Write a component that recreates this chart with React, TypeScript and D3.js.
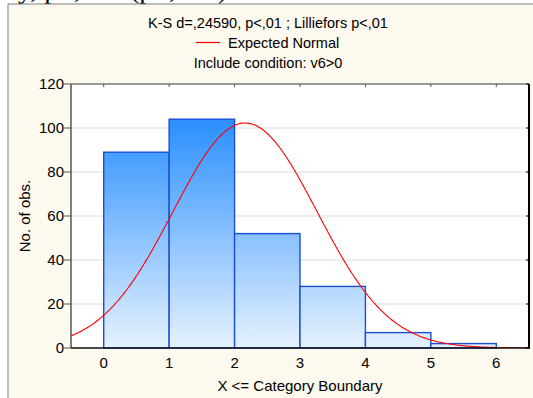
import React from "react";
import * as d3 from "d3";

const categories = [0, 1, 2, 3, 4, 5];
const counts = [89, 104, 52, 28, 7, 2];
const yTicks = [0, 20, 40, 60, 80, 100, 120];
const xTicks = [0, 1, 2, 3, 4, 5, 6];
const normalMean = 2.16;
const normalSd = 1.1;
const binWidth = 1;
const titleLines = ["K-S d=,24590, p<,01 ; Lilliefors p<,01", "Expected Normal", "Include condition: v6>0"];

const W = 533;
const H = 398;
const plot = { left: 71, right: 529, top: 84, bottom: 348 };
const FONT = "'Liberation Sans', Arial, sans-serif";

export default function App() {
  const x = d3.scaleLinear().domain([-0.5, 6.5]).range([plot.left, plot.right]);
  const y = d3.scaleLinear().domain([0, 120]).range([plot.bottom, plot.top]);
  const total = d3.sum(counts);
  const pdf = (v: number) =>
    (total * binWidth) / (normalSd * Math.sqrt(2 * Math.PI)) *
    Math.exp(-0.5 * ((v - normalMean) / normalSd) ** 2);
  const xs = d3.range(-0.5, 6.5001, 0.02);
  const line = d3.line<number>().x((v) => x(v)).y((v) => y(pdf(v))).curve(d3.curveLinear);

  return (
    <svg width={W} height={H} style={{ position: "absolute", left: 0, top: 0 }} fontFamily={FONT}>
      <defs>
        <linearGradient id="barGrad" gradientUnits="userSpaceOnUse" x1={0} x2={0} y1={y(104)} y2={y(0)}>
          <stop offset="0" stopColor="#2a8ffe" />
          <stop offset="1" stopColor="#e6f2ff" />
        </linearGradient>
        <clipPath id="plotClip">
          <rect x={plot.left} y={plot.top} width={plot.right - plot.left} height={plot.bottom - plot.top} />
        </clipPath>
      </defs>
      <rect x={0} y={0} width={W} height={H} fill="#ffffff" />
      <text x={18} y={-2} fontFamily="'Liberation Serif', 'Times New Roman', serif" fontSize={28} fill="#000">
        y, p=,000 (p=,000)
      </text>
      <rect x={8} y={4} width={W} height={H} fill="#fdf9ee" stroke="#808080" strokeWidth={1} />
      <rect x={plot.left} y={plot.top} width={plot.right - plot.left} height={plot.bottom - plot.top} fill="#ffffff" />

      {/* title */}
      <text x={268} y={28} textAnchor="middle" fontSize={14.5} fill="#000">{titleLines[0]}</text>
      <line x1={196} x2={220} y1={42.5} y2={42.5} stroke="#ff0000" strokeWidth={1.2} />
      <text x={228} y={48} fontSize={14.5} fill="#000">{titleLines[1]}</text>
      <text x={268} y={68} textAnchor="middle" fontSize={14.5} fill="#000">{titleLines[2]}</text>

      {/* grid */}
      {yTicks.filter((t) => t > 0 && t < 120).map((t) => (
        <line key={"g" + t} x1={plot.left} x2={plot.right} y1={y(t)} y2={y(t)} stroke="#dcdcdc" strokeWidth={1} />
      ))}

      {/* bars */}
      {categories.map((c, i) => (
        <rect
          key={"b" + c}
          x={x(c)}
          y={y(counts[i])}
          width={x(c + binWidth) - x(c)}
          height={y(0) - y(counts[i])}
          fill="url(#barGrad)"
          stroke="#1a4fd6"
          strokeWidth={1.4}
        />
      ))}

      {/* normal curve */}
      <path d={line(xs) || ""} fill="none" stroke="#ff0000" strokeWidth={1.1} clipPath="url(#plotClip)" />

      {/* axes frame */}
      <line x1={plot.left} x2={plot.right} y1={plot.top} y2={plot.top} stroke="#777" strokeWidth={1.5} />
      <line x1={plot.left} x2={plot.left} y1={plot.top} y2={plot.bottom} stroke="#555" strokeWidth={1.5} />
      <line x1={plot.right} x2={plot.right} y1={plot.top} y2={plot.bottom + 0.75} stroke="#000" strokeWidth={2} />
      <line x1={plot.left} x2={plot.right} y1={plot.bottom} y2={plot.bottom} stroke="#111" strokeWidth={1.5} />

      {/* y ticks */}
      {yTicks.map((t) => (
        <g key={"y" + t}>
          <line x1={plot.left - 7} x2={plot.left} y1={y(t)} y2={y(t)} stroke="#555" strokeWidth={1} />
          <line x1={plot.right - 3} x2={plot.right} y1={y(t)} y2={y(t)} stroke="#000" strokeWidth={1} />
          <text x={plot.left - 7} y={y(t)} dy="0.35em" textAnchor="end" fontSize={15} fill="#000">{t}</text>
        </g>
      ))}

      {/* x ticks */}
      {xTicks.map((t) => (
        <g key={"x" + t}>
          <line x1={x(t)} x2={x(t)} y1={plot.top} y2={plot.top + 3} stroke="#555" strokeWidth={1} />
          <text x={x(t)} y={368} textAnchor="middle" fontSize={15} fill="#000">{t}</text>
        </g>
      ))}

      <text x={(plot.left + plot.right) / 2} y={391} textAnchor="middle" fontSize={15} fill="#000">X &lt;= Category Boundary</text>
      <text transform={`translate(30, ${(plot.top + plot.bottom) / 2}) rotate(-90)`} textAnchor="middle" fontSize={15} fill="#000">No. of obs.</text>
    </svg>
  );
}
